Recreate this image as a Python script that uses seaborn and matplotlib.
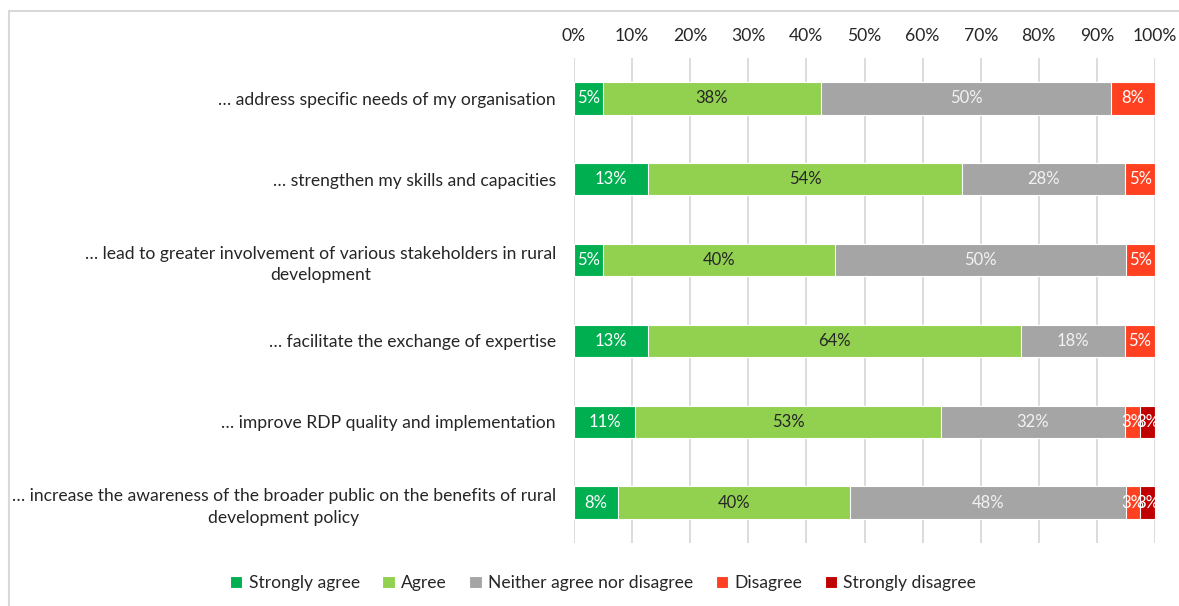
import math
import matplotlib
matplotlib.use("Agg")
import matplotlib.pyplot as plt
from matplotlib.lines import Line2D
import seaborn as sns

# Survey statements (rows, top to bottom)
statements = [
    "… address specific needs of my organisation",
    "… strengthen my skills and capacities",
    "… lead to greater involvement of various stakeholders in rural\ndevelopment",
    "… facilitate the exchange of expertise",
    "… improve RDP quality and implementation",
    "… increase the awareness of the broader public on the benefits of rural\ndevelopment policy",
]

# Response categories and shares (%)
responses = ["Strongly agree", "Agree", "Neither agree nor disagree",
             "Disagree", "Strongly disagree"]
strongly_agree = [5.0, 12.8, 5.0, 12.8, 10.5, 7.5]
agree = [37.5, 53.9, 40.0, 64.1, 52.7, 40.0]
neither = [50.0, 28.2, 50.0, 17.9, 31.6, 47.5]
disagree = [7.5, 5.1, 5.0, 5.2, 2.6, 2.5]
strongly_disagree = [0.0, 0.0, 0.0, 0.0, 2.6, 2.5]

series = [strongly_agree, agree, neither, disagree, strongly_disagree]
colors = ["#00B050", "#92D050", "#A5A5A5", "#FF4121", "#C00000"]
text_colors = ["white", "#262626", "#F2F2F2", "white", "white"]
x_ticks = [0, 10, 20, 30, 40, 50, 60, 70, 80, 90, 100]

sns.set_theme(style="white")
plt.rcParams["font.family"] = ["Lato", "DejaVu Sans"]

FS = 12.6

fig = plt.figure(figsize=(11.79, 6.06), dpi=100)
ax = fig.add_axes([574 / 1179, 1 - 543 / 606, (1155 - 574) / 1179, (543 - 58) / 606])

# Cumulative ends of each segment per row
cum = []
running = [0.0] * len(statements)
for s in series:
    running = [r + v for r, v in zip(running, s)]
    cum.append(list(running))

# Stacked bars: draw the longest cumulative bars first so shorter ones sit on top
for k in range(len(series) - 1, -1, -1):
    sns.barplot(x=cum[k], y=statements, orient="h", color=colors[k],
                saturation=1, width=0.4, edgecolor="white", linewidth=0.8,
                label=responses[k], ax=ax, zorder=3)

# Value labels in segment centres
for k, s in enumerate(series):
    for i, v in enumerate(s):
        if v <= 0:
            continue
        left = cum[k][i] - v
        ax.text(left + v / 2, i, f"{math.floor(v + 0.5)}%", ha="center",
                va="center", fontsize=FS - 0.6, color=text_colors[k], zorder=4)

ax.set_xlim(0, 100)
ax.set_ylim(len(statements) - 0.5, -0.5)
ax.set_xticks(x_ticks)
ax.set_xticklabels([f"{t}%" for t in x_ticks])
ax.xaxis.tick_top()
ax.tick_params(axis="x", length=0, pad=10, labelsize=FS, colors="#262626")
ax.tick_params(axis="y", length=0, pad=13, labelsize=FS, colors="#262626")
for lbl in ax.get_yticklabels():
    lbl.set_multialignment("center")
    lbl.set_linespacing(1.45)
ax.set_xlabel("")
ax.set_ylabel("")
ax.grid(axis="x", color="#D9D9D9", linewidth=1.3, zorder=0)
ax.grid(axis="y", visible=False)
ax.set_axisbelow(True)
for sp in ax.spines.values():
    sp.set_visible(False)

# Legend in response order, centred beneath the chart
handles, labels = ax.get_legend_handles_labels()
order = [labels.index(r) for r in responses]
if ax.legend_ is not None:
    ax.legend_.remove()
fig.legend([handles[i] for i in order], [labels[i] for i in order],
           loc="center", bbox_to_anchor=(603 / 1179, 1 - 583 / 606), ncol=5,
           frameon=False, fontsize=FS, handlelength=0.7, handleheight=0.7,
           handletextpad=0.35, columnspacing=1.3, labelcolor="#262626")

# Chart frame
fig.add_artist(Line2D([9 / 1179, 1.0], [1 - 11 / 606, 1 - 11 / 606],
                      transform=fig.transFigure, color="#D9D9D9", lw=1.5))
fig.add_artist(Line2D([9 / 1179, 9 / 1179], [0.0, 1 - 11 / 606],
                      transform=fig.transFigure, color="#D9D9D9", lw=1.5))

fig.savefig("out.png", dpi=100, facecolor="white")
